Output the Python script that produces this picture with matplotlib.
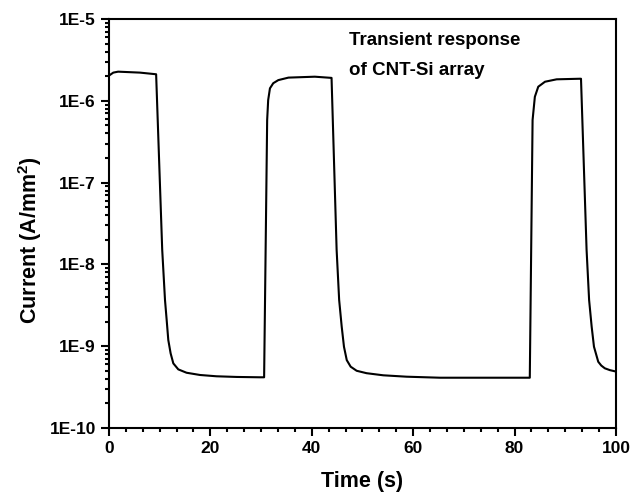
import matplotlib
matplotlib.use("Agg")
import matplotlib.pyplot as plt
from matplotlib.ticker import AutoMinorLocator, LogLocator, NullFormatter

plt.rcParams['font.family'] = ['Liberation Sans', 'DejaVu Sans']
plt.rcParams['font.weight'] = 'bold'
plt.rcParams['mathtext.fontset'] = 'custom'
plt.rcParams['mathtext.rm'] = 'Liberation Sans:bold'
plt.rcParams['mathtext.default'] = 'rm'

time_s = [0, 0.85, 1.8, 6.1, 9.3,
          10.5, 11.05, 11.38, 11.7, 12.16, 12.69, 13.67, 15.3, 17.95, 21.2, 25.2, 29.8, 30.6,
          31.2, 31.4, 31.75, 32.4, 33.4, 35.4, 40.6, 43.9,
          44.9, 45.4, 45.9, 46.35, 46.9, 47.67, 48.85, 50.8, 54.1, 58.7, 65.3, 83.0,
          83.55, 84.0, 84.67, 86.0, 88.3, 92.9, 93.1,
          94.2, 94.7, 95.2, 95.66, 96.5, 97.1, 97.8, 98.8, 100]
current = [2.03e-6, 2.21e-6, 2.27e-6, 2.21e-6, 2.11e-6,
           1.51e-8, 3.67e-9, 2.09e-9, 1.19e-9, 8.18e-10, 6.17e-10, 5.21e-10, 4.74e-10, 4.45e-10, 4.29e-10, 4.21e-10, 4.17e-10, 4.17e-10,
           5.82e-7, 1.02e-6, 1.42e-6, 1.64e-6, 1.79e-6, 1.92e-6, 1.97e-6, 1.905e-6,
           1.51e-8, 3.67e-9, 1.74e-9, 9.86e-10, 6.76e-10, 5.62e-10, 5.01e-10, 4.68e-10, 4.41e-10, 4.24e-10, 4.12e-10, 4.12e-10,
           5.82e-7, 1.12e-6, 1.486e-6, 1.71e-6, 1.83e-6, 1.86e-6, 1.86e-6,
           1.51e-8, 3.67e-9, 1.74e-9, 9.86e-10, 6.46e-10, 5.8e-10, 5.37e-10, 5.1e-10, 4.9e-10]

x_ticks = [0, 20, 40, 60, 80, 100]
y_ticks = [1e-10, 1e-9, 1e-8, 1e-7, 1e-6, 1e-5]
y_tick_labels = ['1E-10', '1E-9', '1E-8', '1E-7', '1E-6', '1E-5']

fig = plt.figure(figsize=(6.31, 4.93), dpi=100)
ax = fig.add_axes([0.1727, 0.1318, 0.8035, 0.8297])
ax.plot(time_s, current, color='black', linewidth=1.5, solid_joinstyle='round')
ax.set_yscale('log')
ax.set_xlim(0, 100)
ax.set_ylim(1e-10, 1e-5)
ax.set_xticks(x_ticks)
ax.set_xticklabels([str(v) for v in x_ticks])
ax.xaxis.set_minor_locator(AutoMinorLocator(6))
ax.set_yticks(y_ticks)
ax.set_yticklabels(y_tick_labels)
ax.yaxis.set_minor_locator(LogLocator(base=10, subs=range(2, 10), numticks=20))
ax.yaxis.set_minor_formatter(NullFormatter())

for s in ax.spines.values():
    s.set_linewidth(1.5)
ax.tick_params(which='both', direction='out', top=False, right=False, width=1.5)
ax.tick_params(which='major', length=5.5, labelsize=12.5, pad=4)
ax.tick_params(which='minor', length=3)
for lab in ax.get_xticklabels() + ax.get_yticklabels():
    lab.set_fontweight('bold')

ax.set_xlabel('Time (s)', fontsize=15.5, fontweight='bold')
ax.set_ylabel('Current (A/mm$^2$)', fontsize=15.5, fontweight='bold')
ax.xaxis.set_label_coords(0.5, -0.105)
ax.yaxis.set_label_coords(-0.128, 0.46)

ax.text(349, 493 - 45, 'Transient response', transform=None, fontsize=13.5,
        fontweight='bold', ha='left', va='baseline')
ax.text(349, 493 - 75, 'of CNT-Si array', transform=None, fontsize=13.5,
        fontweight='bold', ha='left', va='baseline')

fig.savefig('out.png', dpi=100)
